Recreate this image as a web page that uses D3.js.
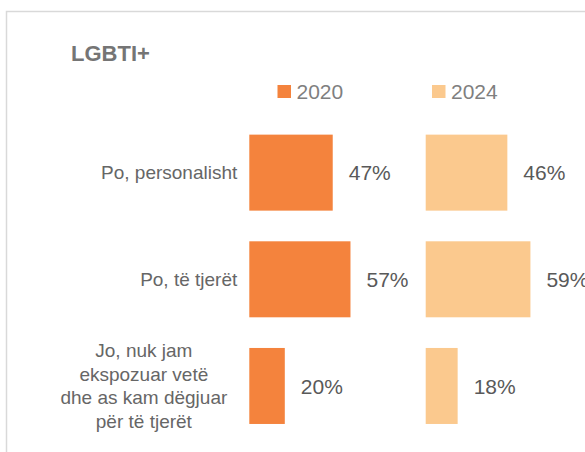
<!DOCTYPE html>
<html>
<head>
<meta charset="utf-8">
<script src="https://cdn.jsdelivr.net/npm/d3@7"></script>
<style>
  html, body { margin: 0; padding: 0; background: #fff; }
  svg { display: block; font-family: "Liberation Sans", Arial, sans-serif; }
</style>
</head>
<body>
<svg id="chart" width="585" height="452"></svg>
<script>
// Survey answers (LGBTI+ respondents), share in percent by year
const categories = [
  ["Po, personalisht"],
  ["Po, të tjerët"],
  ["Jo, nuk jam", "ekspozuar vetë", "dhe as kam dëgjuar", "për të tjerët"]
];
const years = ["2020", "2024"];
const values2020 = [47, 57, 20];
const values2024 = [46, 59, 18];
const colors = ["#F4833D", "#FBC98E"];

const svg = d3.select("#chart");

// outer frame, running past the right and bottom edges
svg.append("rect")
  .attr("x", 6.5).attr("y", 11.5)
  .attr("width", 620).attr("height", 480)
  .attr("fill", "#fff")
  .attr("stroke", "#d9d9d9")
  .attr("stroke-width", 1.5);

svg.append("text")
  .attr("x", 71).attr("y", 61)
  .attr("font-size", 22).attr("font-weight", "bold")
  .attr("fill", "#757575")
  .text("LGBTI+");

const keys = categories.map((d, i) => "c" + i);
const y = d3.scaleBand()
  .domain(keys)
  .range([119.3, 439.3])
  .paddingInner(0.2875)
  .paddingOuter(0.14375);

const panelWidth = 177.5;
const panels = [
  { year: years[0], values: values2020, color: colors[0],
    x: d3.scaleLinear().domain([0, 100]).range([249.3, 249.3 + panelWidth]) },
  { year: years[1], values: values2024, color: colors[1],
    x: d3.scaleLinear().domain([0, 100]).range([425.7, 425.7 + panelWidth]) }
];

// legend, one entry above each panel
const legendX = [277.5, 432];
panels.forEach((p, i) => {
  const g = svg.append("g").attr("transform", `translate(${legendX[i]},85)`);
  g.append("rect").attr("width", 13.5).attr("height", 13).attr("fill", p.color);
  g.append("text")
    .attr("x", 19).attr("y", 13.5)
    .attr("font-size", 21).attr("fill", "#7f7f7f")
    .text(p.year);
});

// bars and value labels
panels.forEach(p => {
  const g = svg.append("g");
  g.selectAll("rect")
    .data(p.values)
    .join("rect")
    .attr("x", p.x(0))
    .attr("y", (d, i) => y(keys[i]))
    .attr("width", d => p.x(d) - p.x(0))
    .attr("height", y.bandwidth())
    .attr("fill", p.color);
  g.selectAll("text")
    .data(p.values)
    .join("text")
    .attr("x", d => p.x(d) + 16)
    .attr("y", (d, i) => y(keys[i]) + y.bandwidth() / 2)
    .attr("dy", "0.36em")
    .attr("font-size", 21)
    .attr("fill", "#595959")
    .text(d => d + "%");
});

// category labels, centred lines placed left of the bars
const axisX = panels[0].x(0);
const lineH = 23.5;
categories.forEach((lines, i) => {
  const g = svg.append("g");
  const cy = y(keys[i]) + y.bandwidth() / 2;
  const texts = lines.map((line, j) =>
    g.append("text")
      .attr("y", cy + (j - (lines.length - 1) / 2) * lineH)
      .attr("dy", "0.35em")
      .attr("font-size", 19)
      .attr("fill", "#666666")
      .attr("text-anchor", "middle")
      .text(line)
  );
  const w = d3.max(texts, t => t.node().getComputedTextLength());
  const gap = lines.length > 1 ? 22 : 12;
  texts.forEach(t => t.attr("x", axisX - gap - w / 2));
});
</script>
</body>
</html>
